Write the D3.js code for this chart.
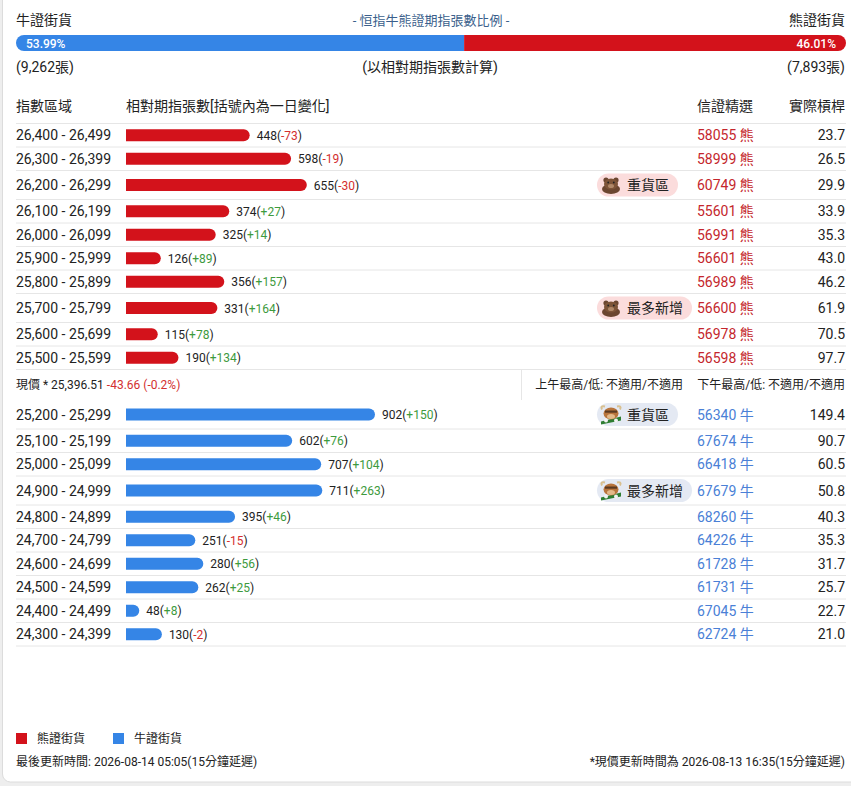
<!doctype html>
<html lang="zh-Hant">
  <head>
    <meta charset="UTF-8" />
    <title>恒指牛熊證期指張數比例</title>
    <script src="https://unpkg.com/d3@7.9.0/dist/d3.min.js"></script>
    <style>
      html, body {
        margin: 0;
        padding: 0;
        background: #eeeeee;
        overflow: hidden;
      }
      svg {
        display: block;
        font-family: Roboto, 'Noto Sans CJK TC', sans-serif;
      }
      .dark { fill: #222; }
      .t14 { font-size: 14px; }
      .t12 { font-size: 12px; }
      .row-line { stroke: #e6e6e6; stroke-width: 1; }
    </style>
  </head>
  <body>
    <svg width="851" height="786"></svg>

    <script>
      // 熊證區域（上半）
      const bearRanges = [
        '26,400 - 26,499', '26,300 - 26,399', '26,200 - 26,299', '26,100 - 26,199',
        '26,000 - 26,099', '25,900 - 25,999', '25,800 - 25,899', '25,700 - 25,799',
        '25,600 - 25,699', '25,500 - 25,599',
      ];
      const bearCount = [448, 598, 655, 374, 325, 126, 356, 331, 115, 190];
      const bearChange = [-73, -19, -30, 27, 14, 89, 157, 164, 78, 134];
      const bearWarrant = [58055, 58999, 60749, 55601, 56991, 56601, 56989, 56600, 56978, 56598];
      const bearLeverage = ['23.7', '26.5', '29.9', '33.9', '35.3', '43.0', '46.2', '61.9', '70.5', '97.7'];
      const bearBadge = ['', '', '重貨區', '', '', '', '', '最多新增', '', ''];

      // 牛證區域（下半）
      const bullRanges = [
        '25,200 - 25,299', '25,100 - 25,199', '25,000 - 25,099', '24,900 - 24,999',
        '24,800 - 24,899', '24,700 - 24,799', '24,600 - 24,699', '24,500 - 24,599',
        '24,400 - 24,499', '24,300 - 24,399',
      ];
      const bullCount = [902, 602, 707, 711, 395, 251, 280, 262, 48, 130];
      const bullChange = [150, 76, 104, 263, 46, -15, 56, 25, 8, -2];
      const bullWarrant = [56340, 67674, 66418, 67679, 68260, 64226, 61728, 61731, 67045, 62724];
      const bullLeverage = ['149.4', '90.7', '60.5', '50.8', '40.3', '35.3', '31.7', '25.7', '22.7', '21.0'];
      const bullBadge = ['重貨區', '', '', '最多新增', '', '', '', '', '', ''];

      // 比例
      const ratioLabels = ['53.99%', '46.01%'];
      const ratioValues = [53.99, 46.01];
      const totalLabels = ['(9,262張)', '(7,893張)'];

      const RED = '#d3121b';
      const BLUE = '#3585e6';
      const UP = '#3d9a3d';
      const DOWN = '#d32f2f';

      const svg = d3.select('svg');
      const left = 16, right = 846;

      // 卡片背景
      svg.append('rect')
        .attr('x', 2.5).attr('y', -20)
        .attr('width', 900).attr('height', 802)
        .attr('rx', 8)
        .attr('fill', '#fff')
        .attr('stroke', '#dcdcdc');

      // ---- 頂部比例條 ----
      const fmtT = (s, x, y, anchor, cls, color) =>
        svg.append('text')
          .attr('x', x).attr('y', y)
          .attr('text-anchor', anchor || 'start')
          .attr('class', cls || 't14')
          .attr('fill', color || '#222')
          .text(s);

      fmtT('牛證街貨', left, 25);
      fmtT('熊證街貨', 845, 25, 'end');
      fmtT('- 恒指牛熊證期指張數比例 -', 431, 25, 'middle', 't13', '#3b5f8c').style('font-size', '13px');

      const ratioX = d3.scaleLinear().domain([0, 100]).range([left, right]);
      svg.append('clipPath').attr('id', 'ratio-clip')
        .append('rect')
        .attr('x', left).attr('y', 35)
        .attr('width', right - left).attr('height', 16)
        .attr('rx', 8);
      const ratio = svg.append('g').attr('clip-path', 'url(#ratio-clip)');
      const stack = [0, ratioValues[0], 100];
      ratio.selectAll('rect')
        .data(ratioValues)
        .join('rect')
        .attr('x', (d, i) => ratioX(stack[i]))
        .attr('y', 35)
        .attr('width', (d, i) => ratioX(stack[i + 1]) - ratioX(stack[i]))
        .attr('height', 16)
        .attr('fill', (d, i) => (i === 0 ? BLUE : RED));
      fmtT(ratioLabels[0], 26, 47.5, 'start', 't12', '#fff').style('font-weight', 500);
      fmtT(ratioLabels[1], 836, 47.5, 'end', 't12', '#fff').style('font-weight', 500);

      fmtT(totalLabels[0], left, 72);
      fmtT('(以相對期指張數計算)', 430, 72, 'middle');
      fmtT(totalLabels[1], 845, 72, 'end');

      // ---- 表頭 ----
      const colBar = 126, colWarrant = 697, colLev = 845;
      fmtT('指數區域', left, 111);
      fmtT('相對期指張數[括號內為一日變化]', colBar, 111);
      fmtT('信證精選', colWarrant, 111);
      fmtT('實際槓桿', colLev, 111, 'end');

      const x = d3.scaleLinear().domain([0, 902]).range([0, 249]);

      function buildRows(ranges, count, change, warrant, lev, badge, type) {
        return ranges.map((r, i) => ({
          range: r, count: count[i], change: change[i], warrant: warrant[i],
          lev: lev[i], badge: badge[i], type,
        }));
      }
      const bearRows = buildRows(bearRanges, bearCount, bearChange, bearWarrant, bearLeverage, bearBadge, 'bear');
      const bullRows = buildRows(bullRanges, bullCount, bullChange, bullWarrant, bullLeverage, bullBadge, 'bull');

      function layout(rows, y0) {
        let y = y0;
        rows.forEach((d) => {
          d.h = d.badge ? 29 : 23.5;
          d.y = y;
          y += d.h;
        });
        return y;
      }
      svg.append('line').attr('class', 'row-line')
        .attr('x1', left).attr('x2', right).attr('y1', 123.5).attr('y2', 123.5);

      const midTop = layout(bearRows, 123.5);
      const midBottom = midTop + 30.5;
      layout(bullRows, midBottom);

      function barPath(w, h) {
        const r = h / 2;
        if (w <= r) return `M0,0H${w}V${h}H0Z`;
        return `M0,0H${w - r}A${r},${r} 0 0 1 ${w - r},${h}H0Z`;
      }

      function bearIcon(g) {
        g.append('ellipse').attr('cx', 0).attr('cy', 4).attr('rx', 9).attr('ry', 5).attr('fill', '#6b4630');
        g.append('circle').attr('cx', -5).attr('cy', -5).attr('r', 2.6).attr('fill', '#6b4630');
        g.append('circle').attr('cx', 5).attr('cy', -5).attr('r', 2.6).attr('fill', '#6b4630');
        g.append('ellipse').attr('cx', 0).attr('cy', -1).attr('rx', 7).attr('ry', 5.5).attr('fill', '#7d5438');
        g.append('ellipse').attr('cx', 0).attr('cy', 1).attr('rx', 3).attr('ry', 2).attr('fill', '#b08868');
        g.append('circle').attr('cx', -2.8).attr('cy', -2.5).attr('r', 0.9).attr('fill', '#222');
        g.append('circle').attr('cx', 2.8).attr('cy', -2.5).attr('r', 0.9).attr('fill', '#222');
      }
      function bullIcon(g) {
        g.append('path').attr('d', 'M-10,7 L10,2 L10,6 L-10,10Z').attr('fill', '#2e7d32');
        g.append('path').attr('d', 'M-9,-5 Q-11,-9 -6,-8 M9,-5 Q11,-9 6,-8')
          .attr('stroke', '#d9c08f').attr('stroke-width', 2).attr('fill', 'none');
        g.append('ellipse').attr('cx', 0).attr('cy', -1).attr('rx', 7.5).attr('ry', 6).attr('fill', '#b8743c');
        g.append('ellipse').attr('cx', 0).attr('cy', 2).attr('rx', 4).attr('ry', 2.5).attr('fill', '#e3b98a');
        g.append('rect').attr('x', -6).attr('y', -4).attr('width', 12).attr('height', 2.2).attr('fill', '#5a3a22');
        g.append('circle').attr('cx', -5).attr('cy', 6).attr('r', 2).attr('fill', '#f2f2f2');
        g.append('circle').attr('cx', 5).attr('cy', 6).attr('r', 2).attr('fill', '#f2f2f2');
      }

      function drawRows(rows) {
        const g = svg.append('g')
          .selectAll('g')
          .data(rows)
          .join('g')
          .attr('transform', (d) => `translate(0,${d.y})`);

        g.append('line').attr('class', 'row-line')
          .attr('x1', left).attr('x2', right)
          .attr('y1', (d) => d.h).attr('y2', (d) => d.h);

        g.append('text')
          .attr('class', 't14 dark')
          .attr('x', left)
          .attr('y', (d) => d.h / 2 + 5)
          .text((d) => d.range);

        g.append('path')
          .attr('transform', (d) => `translate(${colBar},${d.h / 2 - 6})`)
          .attr('d', (d) => barPath(x(d.count), 12))
          .attr('fill', (d) => (d.type === 'bear' ? RED : BLUE));

        const lbl = g.append('text')
          .attr('class', 't12 dark')
          .attr('x', (d) => colBar + x(d.count) + 7)
          .attr('y', (d) => d.h / 2 + 4.5);
        lbl.append('tspan').text((d) => `${d.count}(`);
        lbl.append('tspan')
          .attr('fill', (d) => (d.change < 0 ? DOWN : UP))
          .text((d) => (d.change > 0 ? `+${d.change}` : `${d.change}`));
        lbl.append('tspan').text(')');

        const badge = g.filter((d) => d.badge)
          .append('g')
          .attr('transform', (d) => `translate(597,${d.h / 2 - 11.5})`);
        badge.append('rect')
          .attr('width', (d) => (d.badge.length === 3 ? 81 : 95))
          .attr('height', 23)
          .attr('rx', 11.5)
          .attr('fill', (d) => (d.type === 'bear' ? '#fbdcdc' : '#e4e9f3'));
        badge.each(function (d) {
          const ic = d3.select(this).append('g').attr('transform', 'translate(14,11.5)');
          if (d.type === 'bear') bearIcon(ic);
          else bullIcon(ic);
        });
        badge.append('text')
          .attr('class', 't14 dark')
          .attr('x', 30)
          .attr('y', 16.5)
          .text((d) => d.badge);

        g.append('text')
          .attr('class', 't14')
          .attr('x', colWarrant)
          .attr('y', (d) => d.h / 2 + 5)
          .attr('fill', (d) => (d.type === 'bear' ? '#c4262c' : '#4a80d6'))
          .text((d) => `${d.warrant} ${d.type === 'bear' ? '熊' : '牛'}`);

        g.append('text')
          .attr('class', 't14 dark')
          .attr('x', colLev)
          .attr('y', (d) => d.h / 2 + 5)
          .attr('text-anchor', 'end')
          .text((d) => d.lev);
      }

      drawRows(bearRows);
      drawRows(bullRows);

      // ---- 現價行 ----
      const midY = (midTop + midBottom) / 2 + 4;
      const price = svg.append('text').attr('class', 't12 dark').attr('x', left).attr('y', midY);
      price.append('tspan').text('現價 *  25,396.51 ');
      price.append('tspan').attr('fill', DOWN).text('-43.66 (-0.2%)');
      svg.append('line')
        .attr('x1', 521.5).attr('x2', 521.5)
        .attr('y1', midTop).attr('y2', midBottom)
        .attr('stroke', '#e6e6e6');
      fmtT('上午最高/低: 不適用/不適用', 683, midY, 'end', 't12');
      fmtT('下午最高/低: 不適用/不適用', 845, midY, 'end', 't12');

      // ---- 圖例 ----
      const legend = [
        { name: '熊證街貨', color: RED },
        { name: '牛證街貨', color: BLUE },
      ];
      const lg = svg.append('g')
        .selectAll('g')
        .data(legend)
        .join('g')
        .attr('transform', (d, i) => `translate(${left + i * 97},733)`);
      lg.append('rect').attr('width', 11).attr('height', 11).attr('fill', (d) => d.color);
      lg.append('text').attr('class', 't12 dark').attr('x', 21).attr('y', 10).text((d) => d.name);

      fmtT('最後更新時間: 2026-08-14 05:05(15分鐘延遲)', left, 766, 'start', 't12');
      fmtT('*現價更新時間為 2026-08-13 16:35(15分鐘延遲)', 845, 766, 'end', 't12');
    </script>
  </body>
</html>
